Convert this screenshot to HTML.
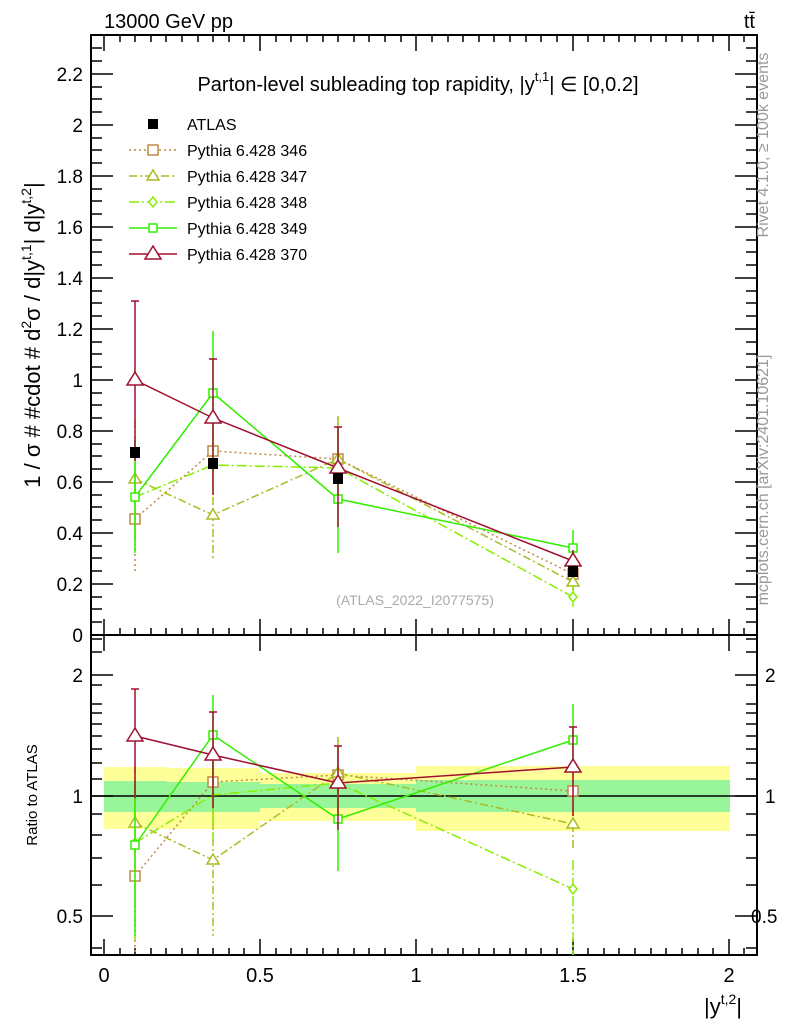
<!DOCTYPE html>
<html><head><meta charset="utf-8"><style>
body{margin:0;background:#fff;}
svg{display:block;font-family:"Liberation Sans",sans-serif;}
</style></head><body>
<svg width="786" height="1024" viewBox="0 0 786 1024" xmlns="http://www.w3.org/2000/svg">
<rect x="104" y="767" width="63" height="62" fill="#ffff99"/>
<rect x="167" y="768" width="93" height="61" fill="#ffff99"/>
<rect x="260" y="773" width="156" height="48" fill="#ffff99"/>
<rect x="416" y="766" width="314" height="65" fill="#ffff99"/>
<rect x="104" y="781" width="63" height="31" fill="#99f599"/>
<rect x="167" y="782" width="93" height="30" fill="#99f599"/>
<rect x="260" y="784" width="156" height="24" fill="#99f599"/>
<rect x="416" y="780" width="314" height="32" fill="#99f599"/>
<line x1="91" y1="796" x2="757" y2="796" stroke="#000" stroke-width="1.5"/>

<rect x="91" y="35" width="666" height="600" fill="none" stroke="#000" stroke-width="2"/>
<rect x="91" y="635" width="666" height="320" fill="none" stroke="#000" stroke-width="2"/>

<g stroke="#000" stroke-width="1.5">
<path d="M91 635h22M91 584h22M91 533h22M91 482h22M91 431h22M91 380h22M91 329h22M91 278h22M91 227h22M91 176h22M91 125h22M91 74h22
M757 635h-22M757 584h-22M757 533h-22M757 482h-22M757 431h-22M757 380h-22M757 329h-22M757 278h-22M757 227h-22M757 176h-22M757 125h-22M757 74h-22"/>
<path d="M91 622h11M91 609h11M91 597h11M91 571h11M91 558h11M91 546h11M91 520h11M91 507h11M91 495h11M91 469h11M91 456h11M91 444h11M91 418h11M91 405h11M91 393h11M91 367h11M91 354h11M91 342h11M91 316h11M91 303h11M91 291h11M91 265h11M91 252h11M91 240h11M91 214h11M91 201h11M91 189h11M91 163h11M91 150h11M91 138h11M91 112h11M91 99h11M91 87h11M91 61h11M91 48h11
M757 622h-11M757 609h-11M757 597h-11M757 571h-11M757 558h-11M757 546h-11M757 520h-11M757 507h-11M757 495h-11M757 469h-11M757 456h-11M757 444h-11M757 418h-11M757 405h-11M757 393h-11M757 367h-11M757 354h-11M757 342h-11M757 316h-11M757 303h-11M757 291h-11M757 265h-11M757 252h-11M757 240h-11M757 214h-11M757 201h-11M757 189h-11M757 163h-11M757 150h-11M757 138h-11M757 112h-11M757 99h-11M757 87h-11M757 61h-11M757 48h-11"/>
<path d="M104 635v-16M260 635v-16M416 635v-16M573 635v-16M729 635v-16M104 35v16M260 35v16M416 35v16M573 35v16M729 35v16
M104 955v-16M260 955v-16M416 955v-16M573 955v-16M729 955v-16M104 635v16M260 635v16M416 635v16M573 635v16M729 635v16"/>
<path d="M120 635v-7M135 635v-7M151 635v-7M166 635v-7M182 635v-7M198 635v-7M213 635v-7M229 635v-7M244 635v-7M276 635v-7M291 635v-7M307 635v-7M323 635v-7M338 635v-7M354 635v-7M369 635v-7M385 635v-7M401 635v-7M432 635v-7M448 635v-7M463 635v-7M479 635v-7M494 635v-7M510 635v-7M526 635v-7M541 635v-7M557 635v-7M588 635v-7M604 635v-7M619 635v-7M635 635v-7M651 635v-7M666 635v-7M682 635v-7M698 635v-7M713 635v-7M744 635v-7
M120 955v-7M135 955v-7M151 955v-7M166 955v-7M182 955v-7M198 955v-7M213 955v-7M229 955v-7M244 955v-7M276 955v-7M291 955v-7M307 955v-7M323 955v-7M338 955v-7M354 955v-7M369 955v-7M385 955v-7M401 955v-7M432 955v-7M448 955v-7M463 955v-7M479 955v-7M494 955v-7M510 955v-7M526 955v-7M541 955v-7M557 955v-7M588 955v-7M604 955v-7M619 955v-7M635 955v-7M651 955v-7M666 955v-7M682 955v-7M698 955v-7M713 955v-7M744 955v-7
M120 35v7M135 35v7M151 35v7M166 35v7M182 35v7M198 35v7M213 35v7M229 35v7M244 35v7M276 35v7M291 35v7M307 35v7M323 35v7M338 35v7M354 35v7M369 35v7M385 35v7M401 35v7M432 35v7M448 35v7M463 35v7M479 35v7M494 35v7M510 35v7M526 35v7M541 35v7M557 35v7M588 35v7M604 35v7M619 35v7M635 35v7M651 35v7M666 35v7M682 35v7M698 35v7M713 35v7M744 35v7"/>
<path d="M91 916h22M91 796h22M91 675h22M757 916h-22M757 796h-22M757 675h-22"/>
<path d="M91 948h11M91 885h11M91 858h11M91 835h11M91 814h11M91 779h11M91 763h11M91 749h11M91 736h11M91 724h11M91 713h11M91 704h11M91 685h11M91 652h11M91 639h11
M757 948h-11M757 885h-11M757 858h-11M757 835h-11M757 814h-11M757 779h-11M757 763h-11M757 749h-11M757 736h-11M757 724h-11M757 713h-11M757 704h-11M757 685h-11M757 652h-11M757 639h-11"/>
</g>

<g font-size="19" text-anchor="end" fill="#000">
<text x="83" y="81">2.2</text><text x="83" y="132">2</text><text x="83" y="183">1.8</text><text x="83" y="234">1.6</text>
<text x="83" y="285">1.4</text><text x="83" y="336">1.2</text><text x="83" y="387">1</text><text x="83" y="438">0.8</text>
<text x="83" y="489">0.6</text><text x="83" y="540">0.4</text><text x="83" y="591">0.2</text><text x="83" y="642">0</text>
<text x="83" y="682">2</text><text x="83" y="803">1</text><text x="83" y="923">0.5</text>
</g>
<g font-size="19" fill="#000">
<text x="765" y="682">2</text><text x="765" y="803">1</text><text x="751" y="923">0.5</text>
</g>
<g font-size="20" text-anchor="middle" fill="#000">
<text x="104" y="982">0</text><text x="260" y="982">0.5</text><text x="416" y="982">1</text>
<text x="573" y="982">1.5</text><text x="729" y="982">2</text>
</g>
<text x="742" y="1014" font-size="22" text-anchor="end">|y<tspan font-size="14" dy="-10">t,2</tspan><tspan dy="10">|</tspan></text>

<text x="104" y="28" font-size="20">13000 GeV pp</text>
<text x="755" y="28" font-size="20" text-anchor="end">tt̄</text>
<text x="418" y="91" font-size="20" text-anchor="middle">Parton-level subleading top rapidity, |y<tspan font-size="13" dy="-10">t,1</tspan><tspan dy="10">| ∈ [0,0.2]</tspan></text>
<text x="415" y="605" font-size="14" fill="#aaaaaa" text-anchor="middle">(ATLAS_2022_I2077575)</text>

<text transform="translate(40,335) rotate(-90)" font-size="22" text-anchor="middle">1 / σ # #cdot # d<tspan font-size="14" dy="-9">2</tspan><tspan dy="9">σ / d|y</tspan><tspan font-size="14" dy="-9">t,1</tspan><tspan dy="9">| d|y</tspan><tspan font-size="14" dy="-9">t,2</tspan><tspan dy="9">|</tspan></text>
<text transform="translate(37,795) rotate(-90)" font-size="15" text-anchor="middle">Ratio to ATLAS</text>
<text transform="translate(768,145) rotate(-90)" font-size="16" fill="#999" text-anchor="middle">Rivet 4.1.0, ≥ 100k events</text>
<text transform="translate(768,480) rotate(-90)" font-size="16" fill="#999" text-anchor="middle">mcplots.cern.ch [arXiv:2401.10621]</text>

<g stroke="#c08a45" fill="none" stroke-width="1.5" stroke-dasharray="2,3">
<polyline points="135,519 213,451 338,459 573,574"/>
<path d="M135 469v102M213 418v68M338 418v80M573 565v16"/>
</g>
<g stroke="#c08a45" fill="#fff" stroke-width="1.5">
<rect x="130" y="514" width="10" height="10"/><rect x="208" y="446" width="10" height="10"/><rect x="333" y="454" width="10" height="10"/><rect x="568" y="569" width="10" height="10"/>
</g>
<g stroke="#aabb22" fill="none" stroke-width="1.5" stroke-dasharray="8,3,2,3">
<polyline points="135,479 213,515 338,459 573,582"/>
<path d="M135 420v120M213 465v93M338 416v80M573 570v20"/>
</g>
<g stroke="#aabb22" fill="#fff" stroke-width="1.5">
<path d="M135 473l6 10h-12z"/><path d="M213 509l6 10h-12z"/><path d="M338 453l6 10h-12z"/><path d="M573 576l6 10h-12z"/>
</g>
<g stroke="#88ee00" fill="none" stroke-width="1.5" stroke-dasharray="10,3,2,3">
<polyline points="135,497 213,465 338,468 573,597"/>
<path d="M135 440v110M213 430v70M338 425v80M573 585v22"/>
</g>
<g stroke="#88ee00" fill="#fff" stroke-width="1.5">
<path d="M135 492l4 5l-4 5l-4-5z"/><path d="M213 460l4 5l-4 5l-4-5z"/><path d="M338 463l4 5l-4 5l-4-5z"/><path d="M573 592l4 5l-4 5l-4-5z"/>
</g>
<g stroke="#33ee00" fill="none" stroke-width="1.5">
<polyline points="135,497 213,393 338,499 573,548"/>
<path d="M135 440v113M213 331v120M338 430v123M573 530v36"/>
</g>
<g stroke="#33ee00" fill="#fff" stroke-width="1.5">
<rect x="131" y="493" width="8" height="8"/><rect x="209" y="389" width="8" height="8"/><rect x="334" y="495" width="8" height="8"/><rect x="569" y="544" width="8" height="8"/>
</g>
<g stroke="#a01030" fill="none" stroke-width="1.5">
<polyline points="135,380 213,418 338,468 573,561"/>
<path d="M135 301v160M213 359v136M338 427v100M573 550v20"/>
<path d="M131 301h8M209 359h8M334 427h8"/>
</g>
<g stroke="#a01030" fill="#fff" stroke-width="1.5">
<path d="M135 372l8 13h-16z"/><path d="M213 410l8 13h-16z"/><path d="M338 460l8 13h-16z"/><path d="M573 553l8 13h-16z"/>
</g>
<g fill="#000">
<rect x="130" y="447" width="10" height="11"/><rect x="208" y="458" width="10" height="11"/><rect x="333" y="473" width="10" height="11"/><rect x="568" y="566" width="10" height="11"/>
</g>

<g stroke="#c08a45" fill="none" stroke-width="1.5" stroke-dasharray="2,3">
<polyline points="135,876 213,782 338,775 573,791"/>
<path d="M135 830v125M213 752v56M338 740v60M573 780v30"/>
</g>
<g stroke="#c08a45" fill="#fff" stroke-width="1.5">
<rect x="130" y="871" width="10" height="10"/><rect x="208" y="777" width="10" height="10"/><rect x="333" y="770" width="10" height="10"/><rect x="568" y="786" width="10" height="10"/>
</g>
<g stroke="#aabb22" fill="none" stroke-width="1.5" stroke-dasharray="8,3,2,3">
<polyline points="135,823 213,860 338,773 573,824"/>
<path d="M135 766v90M213 790v146M338 737v70M573 808v40"/>
</g>
<g stroke="#aabb22" fill="#fff" stroke-width="1.5">
<path d="M135 817l6 10h-12z"/><path d="M213 854l6 10h-12z"/><path d="M338 767l6 10h-12z"/><path d="M573 818l6 10h-12z"/>
</g>
<g stroke="#88ee00" fill="none" stroke-width="1.5" stroke-dasharray="10,3,2,3">
<polyline points="135,843 213,795 338,783 573,889"/>
<path d="M135 790v150M213 760v80M338 745v60M573 860v95"/>
</g>
<g stroke="#88ee00" fill="#fff" stroke-width="1.5">
<path d="M135 838l4 5l-4 5l-4-5z"/><path d="M573 884l4 5l-4 5l-4-5z"/><path d="M338 778l4 5l-4 5l-4-5z"/>
</g>
<g stroke="#33ee00" fill="none" stroke-width="1.5">
<polyline points="135,845 213,735 338,819 573,740"/>
<path d="M135 780v156M213 695v110M338 775v96M573 704v70"/>
</g>
<g stroke="#33ee00" fill="#fff" stroke-width="1.5">
<rect x="131" y="841" width="8" height="8"/><rect x="209" y="731" width="8" height="8"/><rect x="334" y="815" width="8" height="8"/><rect x="569" y="736" width="8" height="8"/>
</g>
<g stroke="#a01030" fill="none" stroke-width="1.5">
<polyline points="135,736 213,755 338,783 573,767"/>
<path d="M135 689v109M213 712v96M338 746v84M573 727v89"/>
<path d="M131 689h8M209 712h8M334 746h8M569 727h8"/>
</g>
<g stroke="#a01030" fill="#fff" stroke-width="1.5">
<path d="M135 728l8 13h-16z"/><path d="M213 747l8 13h-16z"/><path d="M338 775l8 13h-16z"/><path d="M573 759l8 13h-16z"/>
</g>

<g font-size="16" fill="#000">
<rect x="148" y="119" width="10" height="10" fill="#000"/>
<text x="187" y="130">ATLAS</text>
<line x1="129" y1="150" x2="177" y2="150" stroke="#c08a45" stroke-width="1.5" stroke-dasharray="2,3"/>
<rect x="148" y="145" width="10" height="10" fill="#fff" stroke="#c08a45" stroke-width="1.5"/>
<text x="187" y="156">Pythia 6.428 346</text>
<line x1="129" y1="176" x2="177" y2="176" stroke="#aabb22" stroke-width="1.5" stroke-dasharray="8,3,2,3"/>
<path d="M153 170l6 10h-12z" fill="#fff" stroke="#aabb22" stroke-width="1.5"/>
<text x="187" y="182">Pythia 6.428 347</text>
<line x1="129" y1="202" x2="177" y2="202" stroke="#88ee00" stroke-width="1.5" stroke-dasharray="10,3,2,3"/>
<path d="M153 197l4 5l-4 5l-4-5z" fill="#fff" stroke="#88ee00" stroke-width="1.5"/>
<text x="187" y="208">Pythia 6.428 348</text>
<line x1="129" y1="228" x2="177" y2="228" stroke="#33ee00" stroke-width="1.5"/>
<rect x="149" y="224" width="8" height="8" fill="#fff" stroke="#33ee00" stroke-width="1.5"/>
<text x="187" y="234">Pythia 6.428 349</text>
<line x1="129" y1="254" x2="177" y2="254" stroke="#a01030" stroke-width="1.5"/>
<path d="M153 246l8 13h-16z" fill="#fff" stroke="#a01030" stroke-width="1.5"/>
<text x="187" y="260">Pythia 6.428 370</text>
</g>
</svg>
</body></html>
